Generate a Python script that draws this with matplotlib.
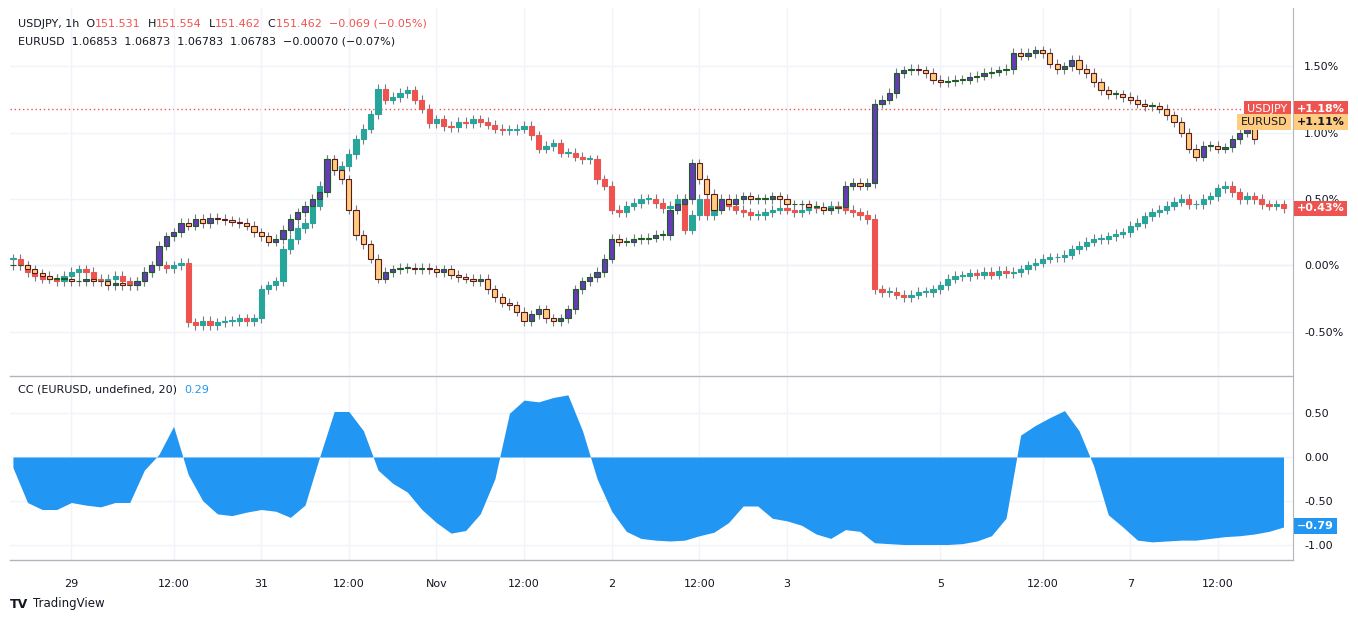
import numpy as np
import matplotlib.pyplot as plt

# percent change closes per 1h bar
usdjpy_close = [
    0.05, 0.0, -0.05, -0.08, -0.1, -0.1, -0.12, -0.08, -0.05, -0.03,
    -0.05, -0.1, -0.12, -0.1, -0.08, -0.12, -0.15, -0.12, -0.05, 0.0,
    0.0, -0.02, 0.0, 0.02, -0.43, -0.45, -0.42, -0.45, -0.43, -0.42,
    -0.42, -0.4, -0.42, -0.4, -0.18, -0.15, -0.12, 0.12, 0.2, 0.28,
    0.32, 0.45, 0.6, 0.8, 0.72, 0.75, 0.84, 0.95, 1.03, 1.14,
    1.33, 1.25, 1.27, 1.3, 1.32, 1.25, 1.18, 1.07, 1.1, 1.05,
    1.04, 1.08, 1.07, 1.1, 1.08, 1.06, 1.03, 1.02, 1.02, 1.03,
    1.05, 0.98, 0.88, 0.9, 0.92, 0.85, 0.85, 0.82, 0.8, 0.8,
    0.65, 0.6, 0.42, 0.4, 0.45, 0.47, 0.5, 0.5, 0.47, 0.43,
    0.45, 0.5, 0.27, 0.38, 0.5, 0.38, 0.43, 0.47, 0.45, 0.42,
    0.4, 0.38, 0.38, 0.4, 0.42, 0.43, 0.42, 0.4, 0.42, 0.45,
    0.43, 0.42, 0.45, 0.43, 0.42, 0.4, 0.38, 0.35, -0.18, -0.2,
    -0.2, -0.22, -0.24, -0.22, -0.2, -0.2, -0.18, -0.15, -0.1, -0.08,
    -0.08, -0.06, -0.07, -0.05, -0.07, -0.04, -0.06, -0.05, -0.03, 0.0,
    0.02, 0.05, 0.06, 0.06, 0.08, 0.12, 0.15, 0.18, 0.2, 0.2,
    0.22, 0.24, 0.25, 0.3, 0.32, 0.37, 0.4, 0.42, 0.45, 0.48,
    0.5, 0.46, 0.46, 0.5, 0.52, 0.58, 0.6, 0.55, 0.5, 0.52,
    0.5, 0.46, 0.45, 0.46, 0.43,
]
eurusd_close = [
    0.0, 0.0, -0.03, -0.06, -0.08, -0.1, -0.1, -0.1, -0.12, -0.12,
    -0.1, -0.12, -0.12, -0.15, -0.13, -0.15, -0.15, -0.12, -0.05, 0.0,
    0.15, 0.22, 0.25, 0.32, 0.3, 0.35, 0.32, 0.36, 0.35, 0.34,
    0.33, 0.32, 0.3, 0.25, 0.22, 0.18, 0.2, 0.27, 0.35, 0.4,
    0.45, 0.5, 0.55, 0.8, 0.72, 0.65, 0.42, 0.23, 0.16, 0.05,
    -0.1, -0.05, -0.03, -0.02, -0.02, -0.03, -0.02, -0.03, -0.05, -0.03,
    -0.07, -0.09, -0.1, -0.12, -0.1, -0.18, -0.24, -0.28, -0.3, -0.35,
    -0.42, -0.37, -0.33, -0.4, -0.42, -0.4, -0.33, -0.18, -0.12, -0.09,
    -0.05, 0.05, 0.2, 0.18, 0.18, 0.2, 0.2, 0.21, 0.23, 0.23,
    0.42, 0.46, 0.5, 0.77, 0.65, 0.54, 0.42, 0.5, 0.46, 0.5,
    0.52, 0.5, 0.5, 0.5, 0.52, 0.5, 0.46, 0.46, 0.46, 0.44,
    0.44, 0.42, 0.43, 0.44, 0.6, 0.62, 0.6, 0.62, 1.22, 1.25,
    1.3, 1.45, 1.47, 1.48, 1.47, 1.45, 1.4, 1.38, 1.39, 1.4,
    1.4, 1.42, 1.43, 1.45, 1.46, 1.47, 1.48, 1.6, 1.58, 1.6,
    1.62, 1.6, 1.52, 1.48, 1.5, 1.55, 1.48, 1.45, 1.38, 1.32,
    1.29, 1.29, 1.27, 1.25, 1.22, 1.2, 1.2, 1.18, 1.13, 1.08,
    1.0, 0.88, 0.82, 0.9, 0.9, 0.88, 0.89, 0.95, 1.0, 1.05,
    0.95,
]
# correlation coefficient, every second bar
cc_vals = [
    -0.12, -0.52, -0.6, -0.6, -0.52, -0.55, -0.57, -0.52, -0.52, -0.15,
    0.03, 0.35, -0.2, -0.5, -0.65, -0.67, -0.63, -0.6, -0.62, -0.69,
    -0.55, 0.0, 0.52, 0.52, 0.3, -0.15, -0.3, -0.4, -0.6, -0.75,
    -0.87, -0.84, -0.65, -0.25, 0.5, 0.65, 0.63, 0.68, 0.71, 0.3,
    -0.25, -0.62, -0.85, -0.93, -0.95, -0.96, -0.95, -0.9, -0.86, -0.75,
    -0.56, -0.56, -0.7, -0.73, -0.78, -0.88, -0.93, -0.83, -0.85, -0.98,
    -0.99, -1.0, -1.0, -1.0, -1.0, -0.99, -0.96, -0.9, -0.7, 0.25,
    0.36, 0.45, 0.53, 0.3, -0.1, -0.66, -0.8, -0.95, -0.97, -0.96,
    -0.95, -0.95, -0.93, -0.91, -0.9, -0.88, -0.85, -0.8,
]
tick_pos = [8, 22, 34, 46, 58, 70, 82, 94, 106, 127, 141, 153, 165]
tick_labels = ['29', '12:00', '31', '12:00', 'Nov', '12:00', '2', '12:00', '3', '5', '12:00', '7', '12:00']
price_ticks = [-0.5, 0.0, 0.5, 1.0, 1.5]
cc_ticks = [-1.0, -0.5, 0.0, 0.5]

W, H = 1358, 622
fig = plt.figure(figsize=(W / 100, H / 100), dpi=100)
ax = fig.add_axes([10 / W, 1 - 375 / H, 1283 / W, 367 / H])
ax2 = fig.add_axes([10 / W, 1 - 560 / H, 1283 / W, 183 / H])

grid_c = '#f0f3fa'
text_c = '#131722'
red = '#ef5350'


def candles(a, closes, up, down, up_edge, down_edge, wick=0.035):
    closes = np.array(closes)
    opens = np.r_[closes[0], closes[:-1]]
    for i, (o, c) in enumerate(zip(opens, closes)):
        lo, hi = min(o, c), max(o, c)
        a.vlines(i, lo - wick, hi + wick, color='#787b86', lw=0.8, zorder=2)
        h = max(hi - lo, 0.006)
        fc, ec = (up, up_edge) if c >= o else (down, down_edge)
        a.add_patch(plt.Rectangle((i - 0.36, lo), 0.72, h, facecolor=fc, edgecolor=ec, lw=0.8, zorder=3))


candles(ax, usdjpy_close, '#26a69a', red, '#26a69a', red)
candles(ax, eurusd_close, '#673ab7', '#ffcc80', '#1b5e20', '#5d1a1a')

for a in (ax, ax2):
    a.set_xlim(-0.4, 175.3)
    a.set_xticks(tick_pos)
    a.grid(True, color=grid_c, lw=1, zorder=0)
    for s in ['top', 'left', 'bottom']:
        a.spines[s].set_visible(False)
    a.spines['right'].set_color('#b2b5be')
    a.yaxis.tick_right()
    a.tick_params(length=0, labelsize=8, labelcolor=text_c, pad=8)
ax.set_xticklabels([])
ax2.set_xticklabels(tick_labels)
ax2.tick_params(axis='x', pad=14)

ax.set_ylim(-0.826, 1.94)
ax.set_yticks(price_ticks, labels=[f'{v:.2f}%' for v in price_ticks])
ax.axhline(0, color='#b2b5be', lw=0.8, zorder=1)
ax.axhline(1.18, color=red, lw=1, ls=(0, (1, 2)), zorder=1)

ax2.set_ylim(-1.177, 0.914)
ax2.set_yticks(cc_ticks, labels=[f'{v:.2f}' for v in cc_ticks])
cc_x = np.arange(len(cc_vals)) * 2
ax2.fill_between(cc_x, cc_vals, 0, color='#2196f3', lw=0, zorder=2)

fig.add_artist(plt.Line2D([10 / W, 1293 / W], [1 - 376 / H] * 2, color='#b2b5be', lw=1))
fig.add_artist(plt.Line2D([10 / W, 1293 / W], [1 - 560 / H] * 2, color='#b2b5be', lw=1))


def label(a, y, txt, fc, tc, x0=1.003):
    a.text(x0, y, txt, transform=a.get_yaxis_transform(), ha='left', va='center', fontsize=8,
           color=tc, fontweight='bold', bbox=dict(boxstyle='square,pad=0.25', fc=fc, ec='none'), zorder=5,
           clip_on=False)


ax.text(0.9955, 1.18, 'USDJPY', transform=ax.get_yaxis_transform(), ha='right', va='center',
        fontsize=8, color='white', bbox=dict(boxstyle='square,pad=0.3', fc=red, ec='none'), zorder=5)
ax.text(0.9955, 1.08, 'EURUSD', transform=ax.get_yaxis_transform(), ha='right', va='center',
        fontsize=8, color=text_c, bbox=dict(boxstyle='square,pad=0.3', fc='#ffcc80', ec='none'), zorder=5)
label(ax, 1.18, '+1.18%', red, 'white')
label(ax, 1.08, '+1.11%', '#ffcc80', text_c)
label(ax, 0.43, '+0.43%', red, 'white')
label(ax2, -0.79, '−0.79', '#2196f3', 'white')


def text_run(x, y, parts):
    # place coloured pieces one after another on a line
    fig.canvas.draw()
    r = fig.canvas.get_renderer()
    for s, c in parts:
        t = fig.text(x / W, 1 - y / H, s, fontsize=8, color=c, va='center')
        x += t.get_window_extent(r).width


text_run(18, 24, [('USDJPY, 1h  O', text_c), ('151.531', red), ('  H', text_c), ('151.554', red),
                  ('  L', text_c), ('151.462', red), ('  C', text_c), ('151.462  −0.069 (−0.05%)', red)])
fig.text(18 / W, 1 - 42 / H, 'EURUSD  1.06853  1.06873  1.06783  1.06783  −0.00070 (−0.07%)', fontsize=8,
         color=text_c, va='center')
text_run(18, 390, [('CC (EURUSD, undefined, 20)  ', text_c), ('0.29', '#2196f3')])
fig.text(10 / W, 1 - 604 / H, 'TV', fontsize=9, color=text_c, va='center', fontweight='bold')
fig.text(33 / W, 1 - 604 / H, 'TradingView', fontsize=8.5, color=text_c, va='center')

fig.savefig('out.png', dpi=100, facecolor='white')
